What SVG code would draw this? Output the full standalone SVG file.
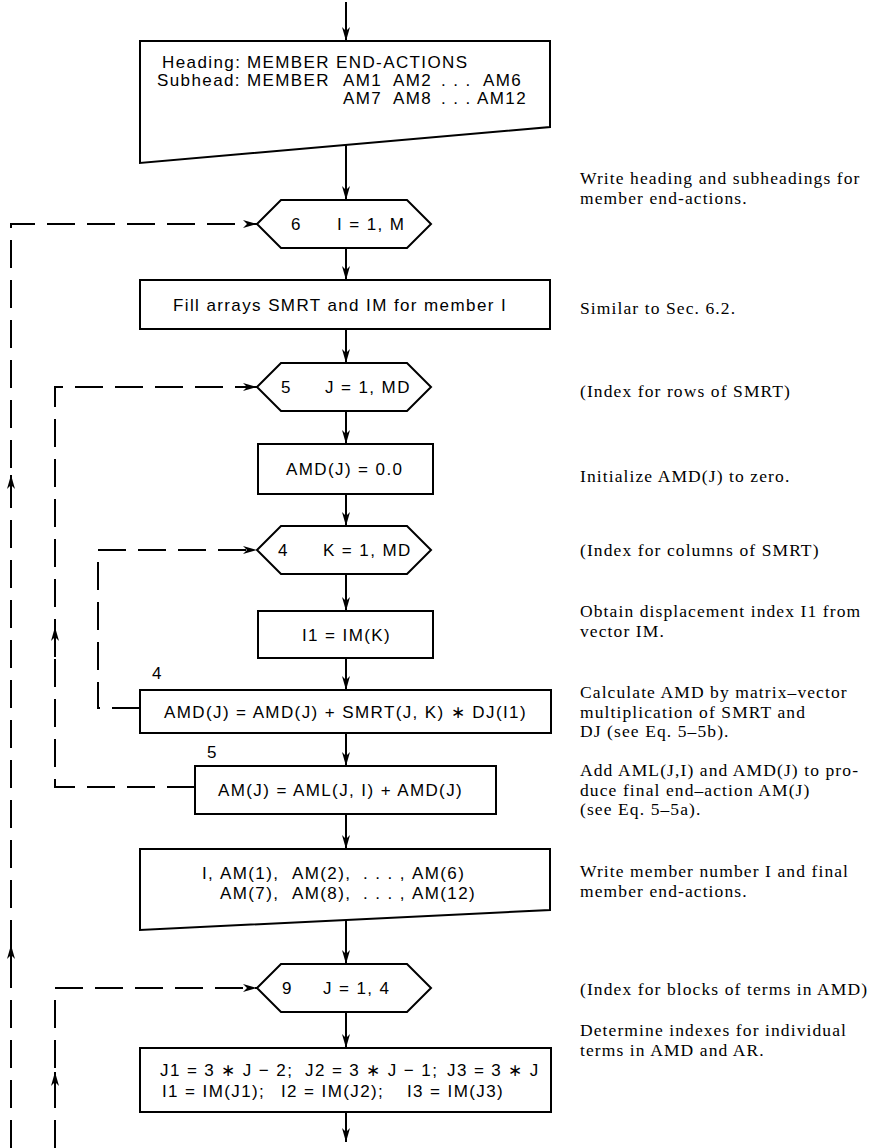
<svg xmlns="http://www.w3.org/2000/svg" width="892" height="1148" viewBox="0 0 892 1148">
  <style>
    .shape { fill: #fff; stroke: #000; stroke-width: 2; }
    .flow { fill: none; stroke: #000; stroke-width: 2; }
    .loop { fill: none; stroke: #000; stroke-width: 2; stroke-dasharray: 28 12; }
    .bx { font-family: "Liberation Sans", Arial, Helvetica, sans-serif; font-size: 17px; letter-spacing: 1.4px; fill: #000; }
    .note { font-family: "Liberation Serif", "Times New Roman", serif; font-size: 17.5px; letter-spacing: 1.1px; fill: #000; }
  </style>
  <defs>
    <marker id="ah" markerWidth="14" markerHeight="8" refX="14" refY="4" orient="auto" markerUnits="userSpaceOnUse">
      <path d="M0,0 L14,4 L0,8 L4,4 Z" fill="#000"/>
    </marker>
  </defs>

  <!-- connectors: main flow down the centre line and dashed loop returns -->
  <g id="connectors">
    <path class="flow" d="M346,2 V41" marker-end="url(#ah)"/>
    <path class="flow" d="M346,145 V200" marker-end="url(#ah)"/>
    <path class="flow" d="M346,248 V280" marker-end="url(#ah)"/>
    <path class="flow" d="M346,329 V363" marker-end="url(#ah)"/>
    <path class="flow" d="M346,411 V444" marker-end="url(#ah)"/>
    <path class="flow" d="M346,494 V526" marker-end="url(#ah)"/>
    <path class="flow" d="M346,574 V611" marker-end="url(#ah)"/>
    <path class="flow" d="M346,658 V690" marker-end="url(#ah)"/>
    <path class="flow" d="M346,733 V766" marker-end="url(#ah)"/>
    <path class="flow" d="M346,814 V849" marker-end="url(#ah)"/>
    <path class="flow" d="M346,920 V964" marker-end="url(#ah)"/>
    <path class="flow" d="M346,1012 V1048" marker-end="url(#ah)"/>
    <path class="flow" d="M346,1112 V1142" marker-end="url(#ah)"/>

    <!-- loop 6 over members -->
    <path class="loop" d="M11,1148 V224 H257" marker-end="url(#ah)"/>
    <!-- loop 5 over rows -->
    <path class="loop" d="M195,787 H55 V387 H257" marker-end="url(#ah)"/>
    <!-- loop 4 over columns -->
    <path class="loop" d="M140,708 H98 V550 H257" marker-end="url(#ah)"/>
    <!-- loop 9 over blocks -->
    <path class="loop" d="M55,1148 V988 H257" marker-end="url(#ah)"/>

    <!-- direction marks on the return lines -->
    <path class="flow" d="M11,507 V475" marker-end="url(#ah)"/>
    <path class="flow" d="M11,975 V945" marker-end="url(#ah)"/>
    <path class="flow" d="M55,657 V627" marker-end="url(#ah)"/>
    <path class="flow" d="M55,1102 V1072" marker-end="url(#ah)"/>
  </g>

  <g id="heading">
    <polygon class="shape" points="140,41 550,41 550,127 140,163"/>
    <text class="bx" y="68"><tspan x="162">Heading:</tspan><tspan x="247">MEMBER</tspan><tspan x="336">END-ACTIONS</tspan></text>
    <text class="bx" y="86"><tspan x="157">Subhead:</tspan><tspan x="247">MEMBER</tspan><tspan x="343">AM1</tspan><tspan x="393">AM2</tspan><tspan x="441">. . .</tspan><tspan x="483">AM6</tspan></text>
    <text class="bx" y="104"><tspan x="343">AM7</tspan><tspan x="393">AM8</tspan><tspan x="441">. . .</tspan><tspan x="477">AM12</tspan></text>
  </g>

  <g id="loop6">
    <polygon class="shape" points="257,224 281,200 407,200 431,224 407,248 281,248"/>
    <text class="bx" x="291" y="230">6</text>
    <text class="bx" x="337" y="230">I = 1, M</text>
  </g>

  <g id="fill-arrays">
    <rect class="shape" x="140" y="280" width="410" height="49"/>
    <text class="bx" x="340" y="311" text-anchor="middle">Fill arrays SMRT and IM for member I</text>
  </g>

  <g id="loop5">
    <polygon class="shape" points="257,387 281,363 407,363 431,387 407,411 281,411"/>
    <text class="bx" x="281" y="393">5</text>
    <text class="bx" x="325" y="393">J = 1, MD</text>
  </g>

  <g id="amd-zero">
    <rect class="shape" x="258" y="444" width="175" height="50"/>
    <text class="bx" x="286" y="475">AMD(J) = 0.0</text>
  </g>

  <g id="loop4">
    <polygon class="shape" points="257,550 281,526 407,526 431,550 407,574 281,574"/>
    <text class="bx" x="278" y="556">4</text>
    <text class="bx" x="323" y="556">K = 1, MD</text>
  </g>

  <g id="index-i1">
    <rect class="shape" x="258" y="611" width="175" height="47"/>
    <text class="bx" x="302" y="641">I1 = IM(K)</text>
  </g>

  <g id="amd-sum">
    <text class="bx" x="152" y="679">4</text>
    <rect class="shape" x="140" y="690" width="411" height="43"/>
    <text class="bx" x="164" y="718">AMD(J) = AMD(J) + SMRT(J, K) ∗ DJ(I1)</text>
  </g>

  <g id="am-total">
    <text class="bx" x="207" y="758">5</text>
    <rect class="shape" x="195" y="766" width="301" height="48"/>
    <text class="bx" x="218" y="796">AM(J) = AML(J, I) + AMD(J)</text>
  </g>

  <g id="write-results">
    <polygon class="shape" points="140,849 550,849 550,910 140,930"/>
    <text class="bx" y="879"><tspan x="202">I,</tspan><tspan x="220">AM(1),</tspan><tspan x="292">AM(2),</tspan><tspan x="363">. . . ,</tspan><tspan x="412">AM(6)</tspan></text>
    <text class="bx" y="899"><tspan x="220">AM(7),</tspan><tspan x="292">AM(8),</tspan><tspan x="363">. . . ,</tspan><tspan x="412">AM(12)</tspan></text>
  </g>

  <g id="loop9">
    <polygon class="shape" points="257,988 281,964 407,964 431,988 407,1012 281,1012"/>
    <text class="bx" x="282" y="994">9</text>
    <text class="bx" x="323" y="994">J = 1, 4</text>
  </g>

  <g id="block-indexes">
    <rect class="shape" x="140" y="1048" width="411" height="64"/>
    <text class="bx" y="1076"><tspan x="160">J1 = 3 ∗ J − 2;</tspan><tspan x="305">J2 = 3 ∗ J − 1;</tspan><tspan x="447">J3 = 3 ∗ J</tspan></text>
    <text class="bx" y="1097"><tspan x="162">I1 = IM(J1);</tspan><tspan x="281">I2 = IM(J2);</tspan><tspan x="407">I3 = IM(J3)</tspan></text>
  </g>

  <g id="notes">
    <text class="note" x="580" y="184">Write heading and subheadings for</text>
    <text class="note" x="580" y="203.5">member end-actions.</text>
    <text class="note" x="580" y="314">Similar to Sec. 6.2.</text>
    <text class="note" x="580" y="397">(Index for rows of SMRT)</text>
    <text class="note" x="580" y="482">Initialize AMD(J) to zero.</text>
    <text class="note" x="580" y="556">(Index for columns of SMRT)</text>
    <text class="note" x="580" y="617">Obtain displacement index I1 from</text>
    <text class="note" x="580" y="636.5">vector IM.</text>
    <text class="note" x="580" y="698">Calculate AMD by matrix–vector</text>
    <text class="note" x="580" y="717.5">multiplication of SMRT and</text>
    <text class="note" x="580" y="737">DJ (see Eq. 5–5b).</text>
    <text class="note" x="580" y="776">Add AML(J,I) and AMD(J) to pro-</text>
    <text class="note" x="580" y="795.5">duce final end–action AM(J)</text>
    <text class="note" x="580" y="815">(see Eq. 5–5a).</text>
    <text class="note" x="580" y="877">Write member number I and final</text>
    <text class="note" x="580" y="896.5">member end-actions.</text>
    <text class="note" x="580" y="995">(Index for blocks of terms in AMD)</text>
    <text class="note" x="580" y="1036">Determine indexes for individual</text>
    <text class="note" x="580" y="1055.5">terms in AMD and AR.</text>
  </g>
</svg>
